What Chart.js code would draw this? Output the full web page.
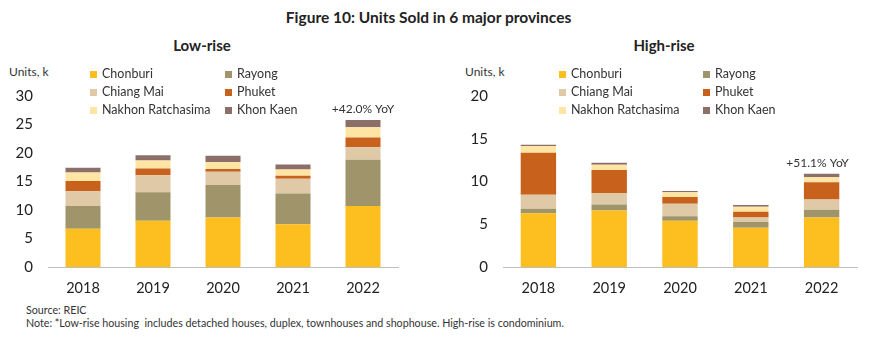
<!DOCTYPE html>
<html>
<head>
<meta charset="utf-8">
<script src="https://cdn.jsdelivr.net/npm/chart.js@4.4.0/dist/chart.umd.min.js"></script>
<style>
  body { margin: 0; background: #fff; font-family: Lato, "Open Sans", sans-serif; color: #222; }
  #wrap { position: relative; width: 870px; height: 341px; overflow: hidden; }
  .txt { position: absolute; white-space: nowrap; }
  .cv { position: absolute; top: 0; width: 435px; height: 300px; }
  .leg { position: absolute; font-size: 12.5px; color: #333; white-space: nowrap; }
  .leg span.sw { display: inline-block; width: 7px; height: 7px; margin-right: 5px; vertical-align: 0px; }
</style>
</head>
<body>
<div id="wrap">
  <div class="txt" style="left:0;width:857px;top:8px;text-align:center;font-weight:bold;font-size:15.5px;">Figure 10: Units Sold in 6 major provinces</div>
  <div class="txt" style="left:102px;width:200px;top:36px;text-align:center;font-weight:bold;font-size:15px;">Low-rise</div>
  <div class="txt" style="left:564px;width:200px;top:36px;text-align:center;font-weight:bold;font-size:15px;">High-rise</div>
  <div class="txt" style="left:9px;top:64px;font-size:12px;color:#333;">Units, k</div>
  <div class="txt" style="left:465px;top:64px;font-size:12px;color:#333;">Units, k</div>
  <div class="cv" style="left:0"><canvas id="graficoLow"></canvas></div>
  <div class="cv" style="left:435px"><canvas id="graficoHigh"></canvas></div>
  <div id="legLow"></div>
  <div id="legHigh"></div>
  <div class="txt" style="left:26px;top:303px;font-size:10.7px;color:#333;">Source: REIC</div>
  <div class="txt" style="left:26px;top:316px;font-size:10.7px;color:#333;">Note: *Low-rise housing&nbsp; includes detached houses, duplex, townhouses and shophouse. High-rise is condominium.</div>
</div>
<script>
var anos = ["2018", "2019", "2020", "2021", "2022"];
var provincias = ["Chonburi", "Rayong", "Chiang Mai", "Phuket", "Nakhon Ratchasima", "Khon Kaen"];
var cores = ["#FDBE1F", "#A0946A", "#DFC9A7", "#C8611C", "#FFE5A3", "#8C6F69"];

// low-rise, thousand units
var lowChonburi = [6.7, 8.1, 8.7, 7.5, 10.7];
var lowRayong = [4.0, 5.0, 5.7, 5.4, 8.1];
var lowChiangMai = [2.6, 3.0, 2.3, 2.6, 2.2];
var lowPhuket = [1.8, 1.2, 0.5, 0.5, 1.7];
var lowNakhon = [1.5, 1.4, 1.2, 1.1, 1.8];
var lowKhonKaen = [0.8, 0.9, 1.1, 0.9, 1.3];

// high-rise, thousand units
var highChonburi = [6.3, 6.6, 5.4, 4.6, 5.8];
var highRayong = [0.5, 0.7, 0.55, 0.65, 0.9];
var highChiangMai = [1.65, 1.35, 1.45, 0.55, 1.2];
var highPhuket = [4.9, 2.7, 0.8, 0.65, 2.0];
var highNakhon = [0.8, 0.6, 0.55, 0.6, 0.6];
var highKhonKaen = [0.15, 0.25, 0.15, 0.2, 0.4];

var lowTicks = [0, 5, 10, 15, 20, 25, 30];
var highTicks = [0, 5, 10, 15, 20];
var lowNota = "+42.0% YoY";
var highNota = "+51.1% YoY";

function montarLegenda(id, x1, x2) {
    var el = document.getElementById(id);
    var linhas = [74, 92, 110];
    provincias.forEach(function(nome, i) {
        var d = document.createElement("div");
        d.className = "leg";
        d.style.left = (i % 2 === 0 ? x1 : x2) + "px";
        d.style.top = (linhas[Math.floor(i / 2)] - 8) + "px";
        d.innerHTML = '<span class="sw" style="background:' + cores[i] + '"></span>' + nome;
        el.appendChild(d);
    });
}

var notaPlugin = {
    id: "nota",
    afterDatasetsDraw: function(chart, args, opts) {
        var meta = chart.getDatasetMeta(chart.data.datasets.length - 1);
        var bar = meta.data[meta.data.length - 1];
        var ctx = chart.ctx;
        ctx.save();
        ctx.font = "12px Lato";
        ctx.fillStyle = "#333";
        ctx.textAlign = "center";
        ctx.textBaseline = "bottom";
        ctx.fillText(opts.text, bar.x + (opts.dx || 0), bar.y - 5);
        ctx.restore();
    }
};

function criarGrafico(id, series, ticks, nota, larguraY, padRight, dx) {
    var ctx = document.getElementById(id).getContext("2d");
    return new Chart(ctx, {
        type: "bar",
        data: {
            labels: anos,
            datasets: series.map(function(s, i) {
                return {
                    label: provincias[i],
                    data: s,
                    backgroundColor: cores[i],
                    borderWidth: 0,
                    categoryPercentage: 1,
                    barPercentage: 0.5
                };
            })
        },
        plugins: [notaPlugin],
        options: {
            responsive: true,
            maintainAspectRatio: false,
            animation: false,
            layout: { padding: { top: 96, right: padRight, left: 0, bottom: 0 } },
            plugins: {
                legend: { display: false },
                tooltip: { enabled: false },
                nota: { text: nota, dx: dx }
            },
            scales: {
                x: {
                    stacked: true,
                    grid: { display: false, drawTicks: false },
                    border: { display: true, color: "#BFBFBF", width: 1 },
                    ticks: { color: "#222", font: { family: "Lato", size: 14.5 }, padding: 13 },
                    afterFit: function(scale) { scale.height = 33; }
                },
                y: {
                    stacked: true,
                    min: ticks[0],
                    max: ticks[ticks.length - 1],
                    grid: { display: false, drawTicks: false },
                    border: { display: false },
                    afterBuildTicks: function(scale) {
                        scale.ticks = ticks.map(function(v) { return { value: v }; });
                    },
                    ticks: { color: "#222", font: { family: "Lato", size: 15 }, padding: 15 },
                    afterFit: function(scale) { scale.width = larguraY; }
                }
            }
        }
    });
}

document.addEventListener("DOMContentLoaded", function() {
    montarLegenda("legLow", 90, 225);
    montarLegenda("legHigh", 559, 703);
    criarGrafico("graficoLow",
        [lowChonburi, lowRayong, lowChiangMai, lowPhuket, lowNakhon, lowKhonKaen],
        lowTicks, lowNota, 48, 37, 0);
    criarGrafico("graficoHigh",
        [highChonburi, highRayong, highChiangMai, highPhuket, highNakhon, highKhonKaen],
        highTicks, highNota, 68, 13, -4);
});
</script>
</body>
</html>
